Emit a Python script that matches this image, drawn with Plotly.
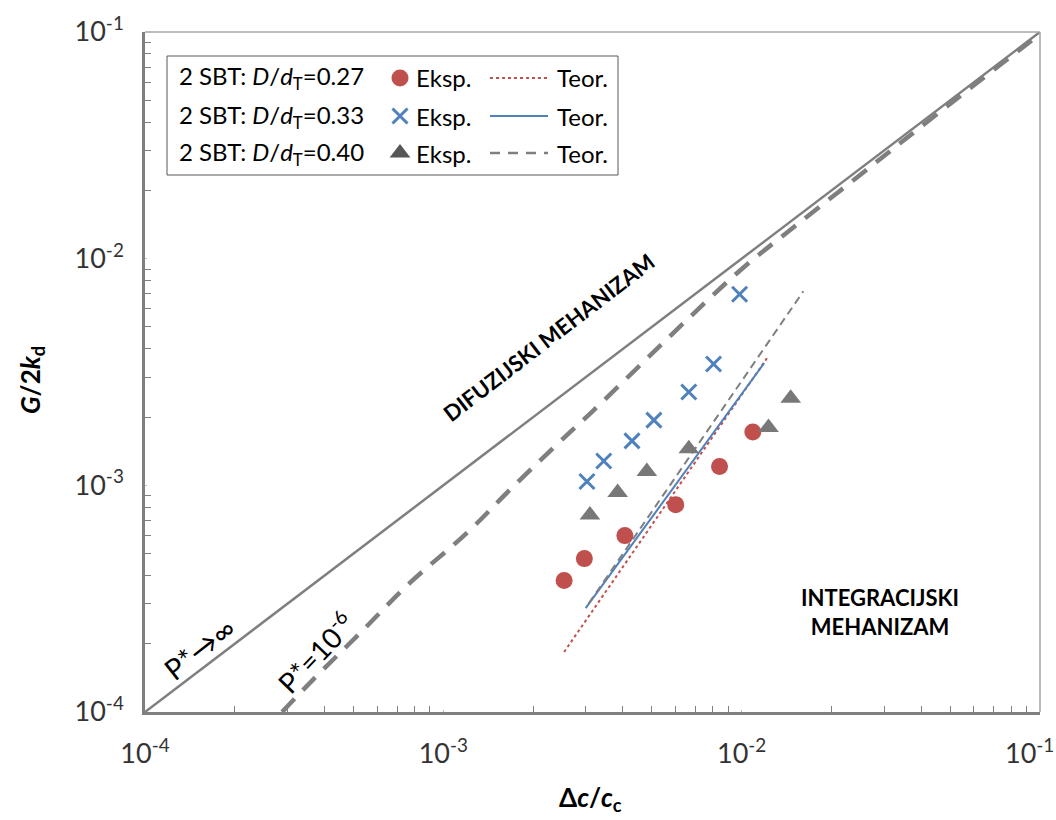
import plotly.graph_objects as go

# ---------------- data ----------------
# Experimental points (Δc/c_c, G/2k_d)
exp_027_x = [2.54e-3, 2.97e-3, 4.06e-3, 6.01e-3, 8.43e-3, 1.09e-2]
exp_027_y = [3.80e-4, 4.75e-4, 6.00e-4, 8.22e-4, 1.21e-3, 1.72e-3]

exp_033_x = [3.03e-3, 3.45e-3, 4.29e-3, 5.08e-3, 6.65e-3, 8.05e-3, 9.84e-3]
exp_033_y = [1.04e-3, 1.28e-3, 1.57e-3, 1.94e-3, 2.58e-3, 3.43e-3, 6.97e-3]

exp_040_x = [3.10e-3, 3.84e-3, 4.81e-3, 6.65e-3, 1.23e-2, 1.46e-2]
exp_040_y = [7.40e-4, 9.30e-4, 1.15e-3, 1.45e-3, 1.80e-3, 2.42e-3]

# Theoretical lines (end points)
teor_027_x = [2.54e-3, 1.23e-2]
teor_027_y = [1.84e-4, 3.72e-3]
teor_033_x = [3.00e-3, 1.19e-2]
teor_033_y = [2.87e-4, 3.46e-3]
teor_040_x = [3.07e-3, 1.61e-2]
teor_040_y = [3.01e-4, 7.18e-3]

# Limiting curves
pinf_x = [1e-4, 1e-1]
pinf_y = [1e-4, 1e-1]
p6_x = [2.88e-4, 3.66e-4, 5.26e-4, 7.72e-4, 1.20e-3, 1.71e-3, 2.60e-3, 3.15e-3,
        6.71e-3, 1.01e-2, 1.53e-2, 2.76e-2, 4.52e-2, 1.0e-1]
p6_y = [1.0e-4, 1.39e-4, 2.23e-4, 3.71e-4, 6.17e-4, 9.84e-4, 1.67e-3, 2.11e-3,
        5.53e-3, 9.10e-3, 1.41e-2, 2.60e-2, 4.35e-2, 9.8e-2]

tick_vals = [1e-4, 1e-3, 1e-2, 1e-1]
x_tick_text = ["10<sup>-4</sup>", "10<sup>-3</sup>", "10<sup>-2</sup>",
               "10<sup>-1</sup>&nbsp;&nbsp;&nbsp;"]
y_tick_text = ["10<sup>-4</sup>", "10<sup>-3</sup>", "10<sup>-2</sup>", "10<sup>-1</sup>"]
minor_vals = [k * 10.0 ** e for e in (-4, -3, -2) for k in range(2, 10)]

legend_labels = ["2 SBT: <i>D</i>/<i>d</i><sub>T</sub>=0.27",
                 "2 SBT: <i>D</i>/<i>d</i><sub>T</sub>=0.33",
                 "2 SBT: <i>D</i>/<i>d</i><sub>T</sub>=0.40"]

# ---------------- styles ----------------
RED = "#C0504D"
BLUE = "#4F81BD"
GREY = "#7F7F7F"
TRI = "#787878"
TRI_LEG = "#575757"
FONT = "Lato"

W, H = 1056, 820
L, R, T, B = 145, 1040, 32, 712


def px(xp):
    return (xp - L) / (R - L)


def py(yp):
    return (B - yp) / (B - T)


fig = go.Figure()

# Limiting lines
fig.add_trace(go.Scatter(x=pinf_x, y=pinf_y, mode="lines",
                         line=dict(color=GREY, width=2.5), showlegend=False))
fig.add_trace(go.Scatter(x=p6_x, y=p6_y, mode="lines", line_shape="spline",
                         line=dict(color=GREY, width=4.5, dash="18px,12px"),
                         showlegend=False))

# Theoretical lines
fig.add_trace(go.Scatter(x=teor_027_x, y=teor_027_y, mode="lines",
                         line=dict(color=RED, width=2, dash="dot"), showlegend=False))
fig.add_trace(go.Scatter(x=teor_033_x, y=teor_033_y, mode="lines",
                         line=dict(color=BLUE, width=2), showlegend=False))
fig.add_trace(go.Scatter(x=teor_040_x, y=teor_040_y, mode="lines",
                         line=dict(color=GREY, width=2, dash="8px,5px"), showlegend=False))

# Experimental points
fig.add_trace(go.Scatter(x=exp_027_x, y=exp_027_y, mode="markers",
                         marker=dict(symbol="circle", size=17, color=RED),
                         showlegend=False))
fig.add_trace(go.Scatter(x=exp_033_x, y=exp_033_y, mode="markers",
                         marker=dict(symbol="x-thin", size=15, color=BLUE,
                                     line=dict(width=3, color=BLUE)),
                         showlegend=False))
fig.add_trace(go.Scatter(x=exp_040_x, y=exp_040_y, mode="markers",
                         marker=dict(symbol="triangle-up", size=18, color=TRI),
                         showlegend=False))

# ---------------- custom legend (overlay axes in paper units) ----------------
row_y = [78, 116, 153]
leg_markers = [dict(symbol="circle", size=17, color=RED),
               dict(symbol="x-thin", size=15, color=BLUE, line=dict(width=3, color=BLUE)),
               dict(symbol="triangle-up", size=18, color=TRI_LEG)]
leg_lines = [dict(color=RED, width=2, dash="dot"),
             dict(color=BLUE, width=2),
             dict(color=GREY, width=2.5, dash="10px,8px")]
for i in range(3):
    fig.add_trace(go.Scatter(x=[px(400)], y=[py(row_y[i])], mode="markers",
                             marker=leg_markers[i], xaxis="x2", yaxis="y2",
                             showlegend=False, hoverinfo="skip"))
    fig.add_trace(go.Scatter(x=[px(490), px(548)], y=[py(row_y[i])] * 2, mode="lines",
                             line=leg_lines[i], xaxis="x2", yaxis="y2",
                             showlegend=False, hoverinfo="skip"))

LEG_FS = 24
annotations = []
for i in range(3):
    annotations.append(dict(x=px(177), y=py(row_y[i]), xref="paper", yref="paper",
                            text=legend_labels[i], showarrow=False, xanchor="left",
                            yanchor="middle", font=dict(size=LEG_FS, color="black", family=FONT)))
    annotations.append(dict(x=px(414), y=py(row_y[i]), xref="paper", yref="paper",
                            text="Eksp.", showarrow=False, xanchor="left",
                            yanchor="middle", font=dict(size=LEG_FS, color="black", family=FONT)))
    annotations.append(dict(x=px(555), y=py(row_y[i]), xref="paper", yref="paper",
                            text="Teor.", showarrow=False, xanchor="left",
                            yanchor="middle", font=dict(size=LEG_FS, color="black", family=FONT)))


def label(xp, yp, text, size, angle=0):
    return dict(x=px(xp), y=py(yp), xref="paper", yref="paper", text=text,
                showarrow=False, textangle=angle, xanchor="center", yanchor="middle",
                font=dict(size=size, color="black", family=FONT))


# Region labels and axis titles
annotations += [
    label(548, 337, "<b>DIFUZIJSKI MEHANIZAM</b>", 22, -37.5),
    label(880, 612, "<b>INTEGRACIJSKI<br>MEHANIZAM</b>", 22),
    label(199, 648, "P*→∞", 29, -38),
    label(315, 652, "P*=10<sup>-6</sup>", 28, -46),
    label(590, 798, "<b>Δ<i>c</i>/<i>c</i><sub>c</sub></b>", 26),
    label(31, 380, "<b><i>G</i>/2<i>k</i><sub>d</sub></b>", 26, -90),
]

shapes = [
    # legend frame
    dict(type="rect", xref="paper", yref="paper", x0=px(167), x1=px(618),
         y0=py(175), y1=py(56), line=dict(color="#595959", width=1)),
    # top and right border
    dict(type="line", xref="paper", yref="paper", x0=0, x1=1, y0=1, y1=1,
         line=dict(color="#A6A6A6", width=1.5)),
    dict(type="line", xref="paper", yref="paper", x0=1, x1=1, y0=0, y1=1,
         line=dict(color="#A6A6A6", width=1.5)),
]

axis_common = dict(
    type="log", range=[-4, -1], showgrid=False, zeroline=False, automargin=False,
    showline=True, linecolor=GREY, linewidth=2.5,
    tickmode="array", tickvals=tick_vals,
    ticks="inside", ticklen=2, tickcolor="#BFBFBF",
    tickfont=dict(size=27, color="#333333", family=FONT),
    minor=dict(tickmode="array", tickvals=minor_vals, ticks="inside",
               ticklen=6, tickcolor=GREY, tickwidth=1, showgrid=False),
)

fig.update_layout(
    width=W, height=H,
    margin=dict(l=L, r=W - R, t=T, b=H - B),
    paper_bgcolor="white", plot_bgcolor="white",
    showlegend=False,
    xaxis=dict(**axis_common, ticktext=x_tick_text, ticklabelstandoff=16,
               ticklabeloverflow="allow"),
    yaxis=dict(**axis_common, ticktext=y_tick_text, ticklabelstandoff=13,
               ticklabeloverflow="allow"),
    xaxis2=dict(range=[0, 1], domain=[0, 1], overlaying="x", visible=False, fixedrange=True),
    yaxis2=dict(range=[0, 1], domain=[0, 1], overlaying="y", visible=False, fixedrange=True),
    annotations=annotations,
    shapes=shapes,
)

fig.write_html("out.html", config={"displayModeBar": False},
               post_script="document.body.style.margin='0';document.body.style.overflow='hidden';")
